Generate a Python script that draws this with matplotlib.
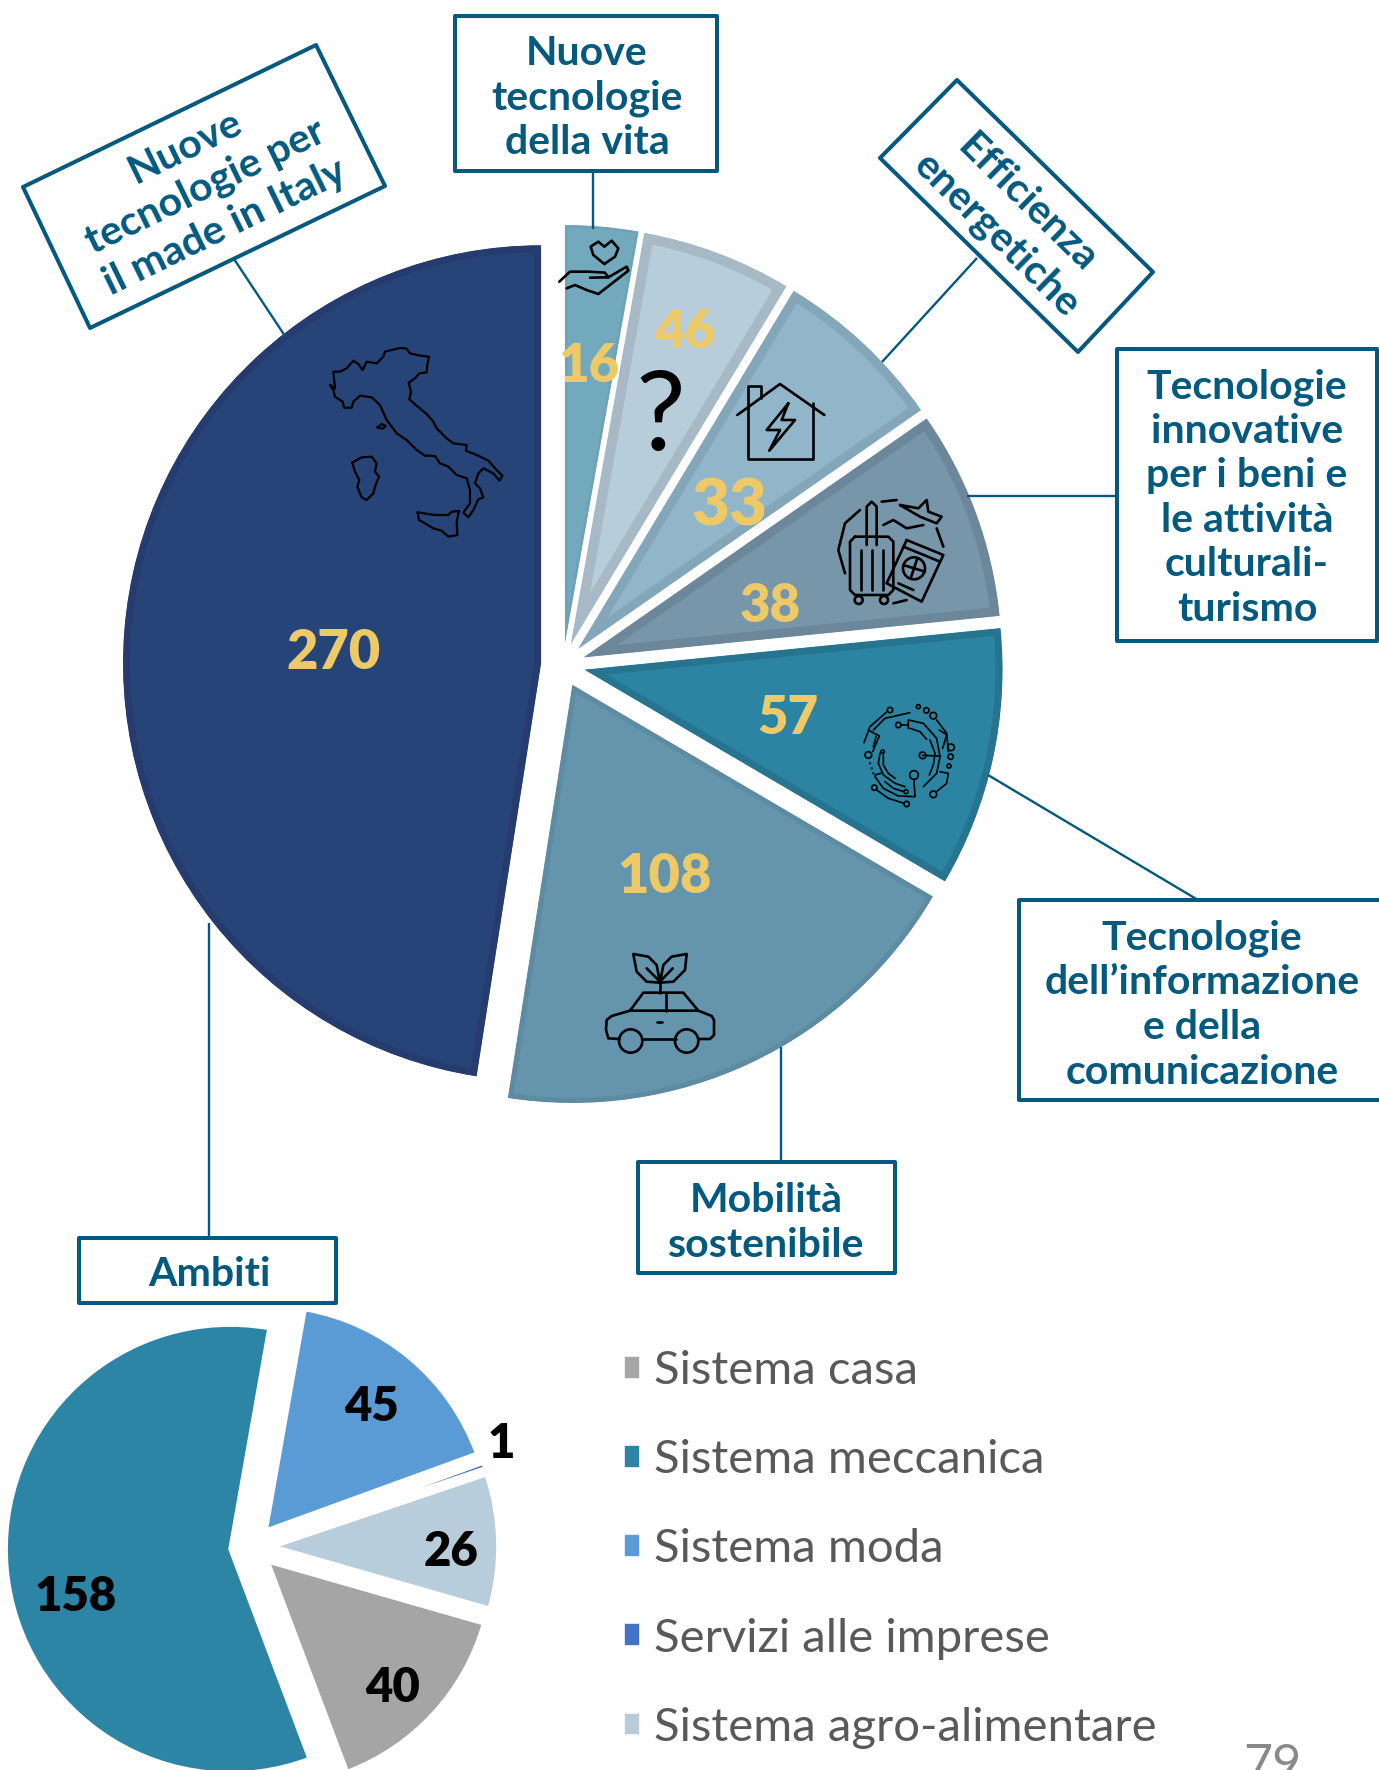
import matplotlib
matplotlib.use("Agg")
import matplotlib.pyplot as plt
from matplotlib.patches import Circle, Polygon

plt.rcParams['font.family'] = ['Lato', 'DejaVu Sans']

# =============================================================================
# DATA
# =============================================================================
# slice sizes are ascending, the printed labels are not in the same order
# (the 46 / 33 / 38 labels do not follow the slice sizes in the source)
ambiti_sizes  = [16, 33, 38, 46, 57, 108, 270]
ambiti_labels = ['16', '46', '33', '38', '57', '108', '270']
ambiti_colors = ['#72A9BD', '#B7CDD9', '#91B5C9', '#7896A9', '#2A84A2', '#6495AD', '#264478']
ambiti_edges  = ['#6FA2B4', '#A6B9C4', '#83A6B9', '#6C8799', '#26748F', '#5D8BA2', '#263C6F']
ambiti_bevel  = [5, 20, 18, 18, 14, 10, 14]

sistemi_names  = ['Sistema casa', 'Sistema meccanica', 'Sistema moda',
                  'Servizi alle imprese', 'Sistema agro-alimentare']
sistemi_sizes  = [40, 158, 45, 1, 26]
sistemi_colors = ['#A5A5A5', '#2C85A5', '#5B9BD5', '#4472C4', '#B8CDDC']

BLUE   = '#04597E'
YELLOW = '#EDC967'

fig = plt.figure(figsize=(13.79, 17.70), dpi=100)
ax = fig.add_axes([0, 0, 1, 1])

# axes run in image pixels, y downward: angles then go clockwise on screen,
# so startangle -90 is 12 o'clock and counterclock=True reads clockwise
big, _ = ax.pie(ambiti_sizes, colors=ambiti_colors, center=(563, 665), radius=418,
                explode=[22] * 7, startangle=-90, counterclock=True, frame=True)
for w, ec, bw in zip(big, ambiti_edges, ambiti_bevel):
    w.set_edgecolor(ec)
    w.set_linewidth(bw * 0.72)
    w.set_clip_on(True)   # pie turns clipping off
    w.set_clip_path(w)    # keeps the bevel stroke inside the slice

small, _ = ax.pie(sistemi_sizes, colors=sistemi_colors, center=(252, 1547), radius=224,
                  explode=[22] * 5, startangle=16, counterclock=True, frame=True,
                  wedgeprops=dict(edgecolor='white', linewidth=2.6))

ax.set_xlim(0, 1379)
ax.set_ylim(1770, 0)
ax.set_aspect('equal')
ax.axis('off')

# =============================================================================
# LABEL BOXES + LEADERS
# =============================================================================
def leader(x0, y0, x1, y1):
    ax.plot([x0, x1], [y0, y1], color=BLUE, lw=1.7, zorder=4, solid_capstyle='butt')

def box(corners):
    ax.add_patch(Polygon(corners, closed=True, fc='white', ec=BLUE, lw=2.9,
                         joinstyle='round', zorder=5, clip_on=True))

def label(x, y, s, rot=0, size=29.5, ls=1.25):
    ax.text(x, y, s, color=BLUE, fontsize=size, fontweight='bold', ha='center',
            va='center', rotation=rot, rotation_mode='anchor', linespacing=ls,
            multialignment='center', zorder=6)

leader(234, 259, 285, 336)
leader(593, 171, 593, 229)
leader(977, 258, 882, 362)
leader(967, 496, 1117, 496)
leader(988, 775, 1198, 900)
leader(781, 1047, 781, 1162)
leader(209, 923, 209, 1238)

box([(316, 45), (385, 186), (90, 328), (23, 187)])
box([(455, 16), (717, 16), (717, 171), (455, 171)])
box([(957, 80), (1153, 272), (1078, 352), (880, 158)])
box([(1117, 349), (1377, 349), (1377, 641), (1117, 641)])
box([(1019, 900), (1395, 900), (1395, 1100), (1019, 1100)])
box([(638, 1162), (895, 1162), (895, 1273), (638, 1273)])
box([(79, 1238), (336, 1238), (336, 1303), (79, 1303)])

label(205, 187, 'Nuove\ntecnologie per\nil made in Italy', rot=26)
label(587, 98, 'Nuove\ntecnologie\ndella vita')
label(1012, 219, 'Efficienza\nenergetiche', rot=-44.5)
label(1247, 498, 'Tecnologie\ninnovative\nper i beni e\nle attività\nculturali-\nturismo')
label(1202, 1005, 'Tecnologie\ndell’informazione\ne della\ncomunicazione')
label(766, 1223, 'Mobilità\nsostenibile')
label(209, 1274, 'Ambiti')

# =============================================================================
# VALUE LABELS
# =============================================================================
big_pos  = [(589, 367), (685, 332), (729, 507), (770, 607), (788, 718), (664, 877), (334, 653)]
big_font = [38, 38, 47, 38, 38, 39, 39]
for s, (x, y), fs in zip(ambiti_labels, big_pos, big_font):
    ax.text(x, y, s, color=YELLOW, fontsize=fs, fontweight='heavy', ha='center',
            va='center', zorder=6)

small_pos = [(393, 1688), (76, 1597), (372, 1407), (501, 1444), (451, 1552)]
for s, (x, y) in zip(sistemi_sizes, small_pos):
    ax.text(x, y, str(s), color='black', fontsize=34, fontweight='heavy', ha='center',
            va='center', zorder=6)

ax.legend(small, sistemi_names, loc='upper left', bbox_to_anchor=(623, 1350),
          bbox_transform=ax.transData, frameon=False, fontsize=34, labelcolor='#595959',
          handlelength=0.39, handleheight=0.43, handletextpad=0.27, labelspacing=1.0,
          borderpad=0, borderaxespad=0)

ax.text(1272, 1743, '79', color='#898989', fontsize=36, ha='center', va='top', zorder=6)

# =============================================================================
# ICONS  (traced from crops, coordinates = crop pixels x3)
# =============================================================================
def ic(pts, ox, oy, lw=1.9):
    ax.plot([ox + p[0] / 3 for p in pts], [oy + p[1] / 3 for p in pts], color='black',
            lw=lw, zorder=7, solid_joinstyle='round', solid_capstyle='round')

def ic_circle(x, y, r, ox, oy, lw=1.9):
    ax.add_patch(Circle((ox + x / 3, oy + y / 3), r / 3, fc='none', ec='black', lw=lw, zorder=7))

# Italy
italy = [(30,135),(45,145),(40,95),(60,95),(80,85),(100,62),(115,72),(128,90),(140,65),(170,70),
         (190,50),(195,35),(215,30),(240,24),(260,26),(270,40),(300,47),(327,50),(322,75),(320,97),
         (298,100),(285,115),(266,128),(273,155),(268,178),(290,197),(320,222),(340,245),(350,265),
         (380,295),(400,310),(440,315),(438,332),(470,345),(505,362),(530,390),(547,407),(538,422),
         (520,400),(490,385),(475,400),(465,430),(480,445),(490,472),(475,478),(460,510),(445,532),
         (430,518),(450,490),(450,450),(440,415),(410,405),(385,380),(360,370),(345,348),(315,347),
         (290,330),(260,300),(230,280),(200,240),(180,195),(155,172),(120,167),(100,185),(95,203),
         (72,203),(68,185),(45,170),(40,150),(30,135)]
sardinia = [(97,368),(125,352),(155,350),(170,370),(165,395),(177,410),(165,440),(160,460),
            (140,480),(125,472),(112,440),(118,420),(105,395),(97,368)]
sicily = [(293,517),(325,522),(345,525),(385,525),(395,515),(417,513),(410,545),(412,585),
          (385,590),(365,572),(340,565),(315,550),(297,540),(293,517)]
elba = [(172,262),(185,252),(197,258),(188,266),(172,262)]
for shape in [italy, sardinia, sicily, elba]:
    ic(shape, 320, 340, lw=1.6)

# heart in hand, house, suitcase: all from the same crop
ZX, ZY = 520, 200
ic([(253,192),(220,165),(212,140),(235,125),(253,140),(275,122),(295,145),(285,170),(253,192)], ZX, ZY)
ic([(118,245),(150,215),(205,215),(255,218),(265,232),(210,233)], ZX, ZY)
ic([(265,232),(320,200),(325,212),(235,282),(200,270),(165,255),(140,265)], ZX, ZY)

ic([(652,645),(780,552),(913,645)], ZX, ZY)
ic([(685,625),(685,557),(722,557),(722,595)], ZX, ZY)
ic([(685,625),(685,778),(878,778),(878,610)], ZX, ZY)
ic([(805,610),(740,690),(780,690),(748,752),(825,660),(785,660),(805,610)], ZX, ZY)

ic([(1005,1010),(1105,1010),(1120,1025),(1120,1170),(1105,1185),(1005,1185),(990,1170),(990,1025),(1005,1010)], ZX, ZY)
ic([(1040,1035),(1040,920),(1055,905),(1070,920),(1070,1035)], ZX, ZY)
for bx in [1022, 1055, 1090]:
    ic([(bx,1050),(bx,1170)], ZX, ZY)
ic_circle(1016, 1200, 12, ZX, ZY)
ic_circle(1092, 1200, 12, ZX, ZY)
ic([(1160,1020),(1270,1065),(1205,1205),(1100,1150),(1160,1020)], ZX, ZY)
ic([(1150,1040),(1260,1085)], ZX, ZY)
ic([(1135,1150),(1180,1170)], ZX, ZY)
ic_circle(1182, 1105, 33, ZX, ZY)
ic([(1150,1095),(1215,1115)], ZX, ZY)
ic([(1192,1075),(1172,1135)], ZX, ZY)
ic([(975,1120),(955,1050),(975,970),(1020,930)], ZX, ZY)
ic([(1085,905),(1130,900)], ZX, ZY)
ic([(1140,915),(1195,925),(1220,900),(1225,935),(1265,950),(1250,970),(1200,950),(1140,915)], ZX, ZY)
ic([(1090,975),(1120,960),(1160,985),(1210,975)], ZX, ZY)
ic([(1250,985),(1270,1040)], ZX, ZY)
ic([(1120,1210),(1160,1200)], ZX, ZY)

# question mark
ax.text(660, 419, '?', color='black', fontsize=80, ha='center', va='center', zorder=7)

# car with leaves
CX, CY = 580, 930
ic([(118,327),(85,325),(78,300),(80,270),(95,258),(150,242),(355,242),(395,258),(402,270),(402,315),(390,327),(355,327)], CX, CY)
ic([(187,327),(287,327)], CX, CY)
ic([(150,242),(190,188),(310,188),(355,242)], CX, CY)
ic([(257,188),(257,242)], CX, CY)
ic([(232,275),(245,275)], CX, CY)
ic([(240,188),(240,145)], CX, CY)
ic([(240,158),(200,155),(170,125),(160,72),(205,80),(230,105),(240,158)], CX, CY)
ic([(240,158),(280,155),(315,120),(320,72),(275,80),(250,105),(240,158)], CX, CY)
ic([(200,115),(240,155),(278,115)], CX, CY)
ic_circle(152, 333, 35, CX, CY)
ic_circle(320, 333, 35, CX, CY)

# circuit
TX, TY = 840, 690
T = 1.2
for pts in [[(72,158),(90,110),(140,66)],
            [(100,120),(135,85),(210,68)],
            [(88,122),(118,138),(98,185)],
            [(108,140),(100,170)],
            [(290,90),(320,130),(325,185)],
            [(298,120),(320,135),(308,175)],
            [(205,115),(205,90),(250,100),(290,145),(300,200),(290,250),(250,290)],
            [(210,115),(240,125),(260,148)],
            [(183,105),(205,105)],
            [(270,150),(285,190),(280,225),(268,255)],
            [(248,196),(300,198)],
            [(120,190),(115,220),(130,255),(165,280),(195,290)],
            [(130,195),(130,225),(145,250),(165,265)],
            [(105,260),(130,295),(175,318),(225,320),(222,270)],
            [(105,255),(122,250)],
            [(135,275),(160,295),(192,305)],
            [(110,300),(145,325),(192,340)],
            [(288,306),(320,280),(325,250),(300,245)]]:
    ic(pts, TX, TY, lw=T)
for x, y, r in [(150,60,8),(85,195,10),(280,77,10),(175,105,8),(248,196,10),(128,185,5),
                (222,255,13),(198,305,6),(103,293,8),(200,342,8),(280,313,10),(235,50,6),
                (259,61,8),(333,172,10),(332,200,8),(327,228,6),(90,220,1),(95,235,1),(100,250,1)]:
    ic_circle(x, y, r, TX, TY, lw=T)

fig.savefig("out.png", dpi=100)
